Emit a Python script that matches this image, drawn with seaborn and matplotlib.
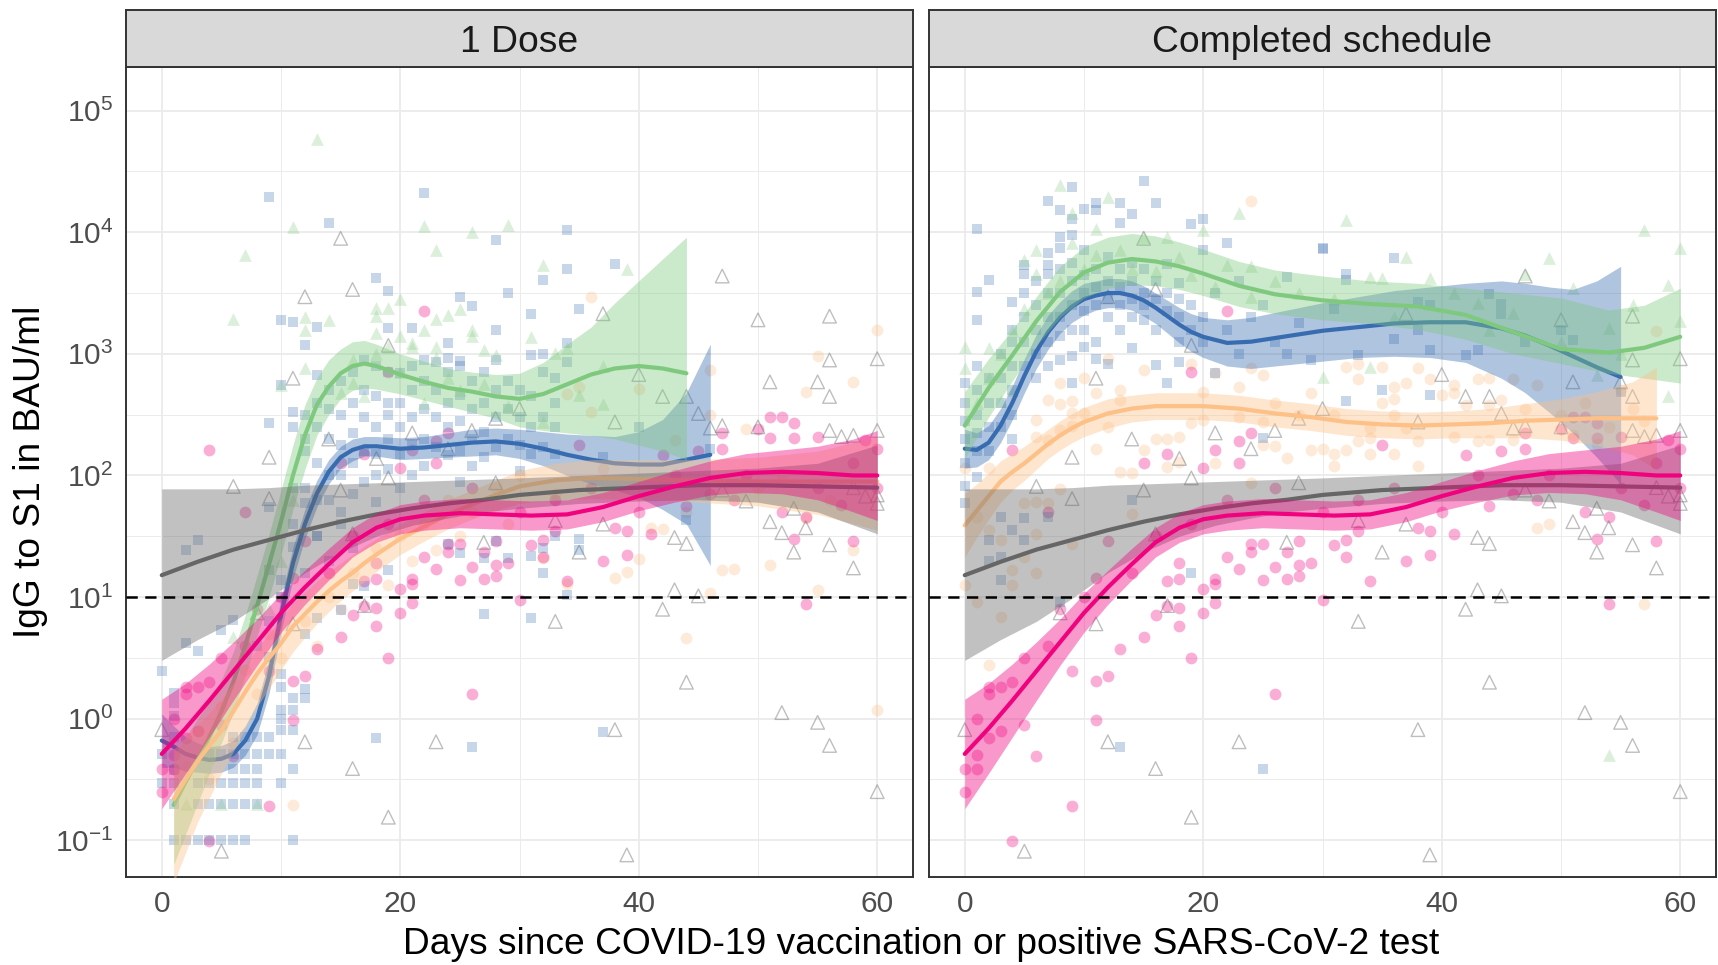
import numpy as np
import pandas as pd
import matplotlib
matplotlib.use("Agg")
import matplotlib.pyplot as plt
import matplotlib.ticker as mticker
import seaborn as sns

# Colours (RColorBrewer "Accent")
GREEN = "#7FC97F"
BLUE = "#386CB0"
ORANGE = "#FDC086"
PINK = "#F0027F"
GREY = "#666666"

# ---------------------------------------------------------------
# Observations: (day, log10 IgG to S1 in BAU/ml), read off the figure
# ---------------------------------------------------------------
dose1_green_pts = [
    (13, 4.77), (7, 3.81), (11, 4.04), (6, 3.29), (22, 4.05), (26, 4.0), (29, 4.06), (23, 3.85),
    (20, 3.45), (18, 3.38), (19, 3.38), (18, 3.31), (12, 3.3), (14, 3.28), (12, 3.2), (18, 3.17),
    (20, 3.15), (22, 3.2), (23, 3.29), (24, 3.32), (25, 3.37), (26, 3.2), (26, 3.15), (21, 3.09),
    (23, 3.06), (27, 3.03), (28, 2.99), (12, 2.88), (10, 2.74), (16, 2.76), (15, 2.68), (17, 2.65),
    (29, 2.57), (18, 3.0), (19, 3.06), (21, 3.06), (23, 2.97), (16, 2.95), (20, 2.85), (24, 2.8),
    (22, 2.6), (25, 2.7), (27, 2.75), (32, 3.73), (39, 3.7), (31, 3.14), (33, 3.01), (37, 2.9),
    (37, 2.59), (35, 2.66), (34, 3.05), (32, 2.44), (6, 0.67), (2, -0.7), (5, -0.7), (8, -0.7),
    (10, 1.3), (11, 1.8), (9, 0.9),
]

dose1_blue_pts = [
    (9, 4.29), (14, 4.08), (22, 4.32), (28, 3.94), (18, 3.62), (19, 3.52), (25, 3.47), (26, 3.39),
    (29, 3.5), (10, 3.28), (11, 3.26), (13, 3.22), (12, 3.07), (19, 3.21), (21, 3.21), (24, 3.09),
    (24, 2.97), (28, 3.2), (25, 2.94), (13, 2.83), (10, 2.74), (9, 2.43), (11, 2.52), (11, 2.4),
    (34, 4.02), (34, 3.7), (32, 3.61), (38, 3.74), (31, 3.33), (35, 3.37), (34, 3.09), (32, 3.0),
    (31, 2.99), (33, 2.8), (34, 2.93), (40, 2.4), (37, 2.15), (46, 2.22),
    (31, 1.34), (32, 1.4), (32, 1.2), (33, 1.5), (35, 1.48), (35, 1.39), (34, 1.02), (31, 0.83),
    (37, -0.11), (44, 1.63),
    (12, 2.5), (12, 2.2), (12, 1.9), (12, 2.3), (13, 2.6), (13, 2.4), (13, 2.1), (13, 1.8), (13, 1.5),
    (14, 2.7), (14, 2.55), (14, 2.3), (14, 2.0), (14, 1.8), (15, 2.78), (15, 2.5), (15, 2.25),
    (15, 2.0), (15, 1.7), (16, 2.85), (16, 2.6), (16, 2.35), (16, 2.1), (16, 1.85), (17, 2.95),
    (17, 2.7), (17, 2.48), (17, 2.2), (17, 1.95), (18, 2.9), (18, 2.65), (18, 2.4), (18, 2.18),
    (18, 2.0), (18, 1.78), (19, 2.85), (19, 2.6), (19, 2.5), (19, 2.3), (19, 2.05), (20, 2.84),
    (20, 2.6), (20, 2.4), (20, 2.18), (20, 1.9), (21, 2.9), (21, 2.7), (21, 2.48), (21, 2.25),
    (21, 2.0), (22, 2.95), (22, 2.78), (22, 2.55), (22, 2.3), (22, 2.08), (23, 2.93), (23, 2.7),
    (23, 2.48), (23, 2.23), (24, 2.85), (24, 2.6), (24, 2.4), (24, 2.17), (25, 2.9), (25, 2.66),
    (25, 2.45), (25, 2.2), (25, 1.95), (26, 2.78), (26, 2.55), (26, 2.3), (26, 2.08), (27, 2.85),
    (27, 2.6), (27, 2.36), (27, 2.15), (28, 2.95), (28, 2.7), (28, 2.48), (28, 2.23), (29, 2.78),
    (29, 2.55), (29, 2.3), (30, 2.7), (30, 2.48), (30, 2.25), (30, 2.04), (31, 2.65), (31, 2.4),
    (31, 2.18), (32, 2.85), (32, 2.48), (32, 2.23), (33, 2.6), (33, 2.4), (33, 2.18),
    (0, 0.39), (1, 0.21), (1, 0.13), (1, 0.02), (1, -0.15), (0, -0.29), (1, -0.42), (0, -0.53),
    (1, -0.53), (3, -0.53), (4, -0.53), (5, -0.53), (6, -0.53), (7, -0.53), (8, -0.53), (10, -0.53),
    (1, -0.7), (3, -0.7), (4, -0.7), (5, -0.7), (6, -0.7), (7, -0.7), (8, -0.7), (1, -1.0), (2, -1.0),
    (3, -1.0), (4, -1.0), (5, -1.0), (6, -1.0), (7, -1.0), (11, -1.0), (6, -0.41), (7, -0.41),
    (8, -0.41), (11, -0.41), (4, -0.29), (5, -0.29), (6, -0.29), (7, -0.29), (8, -0.29), (9, -0.29),
    (10, -0.29), (6, -0.15), (7, -0.15), (8, -0.15), (9, -0.15), (10, -0.09), (11, -0.09), (10, 0.0),
    (10, 0.07), (11, 0.07), (11, 0.17), (12, 0.17), (12, 0.24), (3, 0.56), (2, 0.62), (5, 0.73),
    (6, 0.81), (2, 1.39), (3, 1.47), (9, 1.74), (18, -0.16), (26, -0.23), (27, 0.86), (9, 1.22),
    (10, 1.14), (11, 1.41), (11, 1.6), (12, 1.77), (10, 1.0), (9, 0.51), (10, 0.37), (10, 0.26),
    (13, 0.83), (15, 0.89), (16, 1.11), (17, 1.09), (19, 1.22), (24, 1.44), (25, 1.36), (27, 1.32),
    (29, 1.32), (28, 1.46), (9, 0.8), (8, 0.6), (11, 1.9), (12, 1.2), (13, 1.5), (14, 1.3),
    (15, 1.6), (16, 1.4), (12, 0.7),
]

dose1_orange_pts = [
    (11, -0.71), (32, 1.32), (38, 1.16), (39, 1.21), (40, 1.31), (41, 1.57), (42, 1.56), (44, 0.66),
    (46, 1.03), (47, 1.22), (48, 1.23), (51, 1.26), (54, 1.65), (55, 1.06), (58, 1.39), (60, 0.07),
    (34, 1.11), (36, 3.47), (46, 2.87), (60, 3.2), (55, 2.98), (54, 2.69), (58, 2.77), (40, 2.71),
    (46, 2.5), (36, 2.52), (49, 2.38), (43, 2.29), (35, 2.73), (34, 2.67), (23, 1.39), (2, -0.4),
    (4, -0.5), (6, -0.2), (8, 0.2), (10, 0.5), (12, 0.8), (14, 1.0), (16, 1.2), (18, 1.4), (20, 1.5),
    (22, 1.6), (24, 1.8), (26, 1.7), (28, 1.9), (30, 2.0), (33, 1.85), (50, 1.9), (56, 1.8),
    (44, 1.7), (52, 2.0), (37, 2.05), (3, -0.1), (5, 0.1), (7, 0.4), (9, 0.7), (13, 0.6), (15, 0.9),
    (19, 1.1), (21, 1.3), (25, 1.5), (29, 1.6),
]

# infection group: same points in both panels
infect_pink_pts = [
    (0, -0.41), (1, -0.41), (2, 0.26), (2, -0.16), (5, -0.05), (6, -0.31), (4, -1.01), (9, -0.72),
    (9, 0.39), (11, -0.01), (11, 0.31), (12, 0.35), (13, 0.57), (15, 0.67), (16, 0.85), (17, 0.93),
    (18, 0.91), (18, 0.76), (19, 0.5), (20, 0.87), (21, 0.95), (21, 1.11), (21, 1.15), (17, 1.13),
    (18, 1.15), (18, 1.28), (20, 1.07), (22, 1.33), (23, 1.23), (24, 1.37), (25, 1.44), (25, 1.14),
    (26, 1.25), (26, 0.2), (27, 1.37), (27, 1.15), (28, 1.26), (28, 1.46), (29, 1.28), (30, 0.98),
    (28, 1.17), (24, 1.44), (7, 1.7), (11, 1.16), (12, 1.46),
    (31, 1.43), (32, 1.47), (32, 1.33), (33, 1.54), (34, 1.13), (37, 1.3), (38, 1.57), (39, 1.54),
    (39, 1.35), (41, 1.52), (44, 1.75), (53, 1.48), (54, 0.94), (58, 1.46), (57, 1.76), (54, 1.66),
    (52, 1.7), (48, 1.8), (51, 2.48), (52, 2.48), (53, 2.43), (51, 2.31), (53, 2.31), (55, 2.32),
    (47, 2.35), (47, 2.22), (50, 2.38), (60, 2.22), (59, 2.29), (45, 2.2), (4, 2.21), (22, 3.35),
    (19, 2.85), (24, 2.35), (23, 2.28), (21, 2.21), (17, 2.18), (15, 2.1), (20, 2.06), (23, 2.1),
    (42, 2.17), (35, 2.25), (1, 0.0), (2, 0.2), (3, 0.26), (4, 0.3), (0, -0.6), (1, -0.3), (3, -0.1),
    (5, 0.5), (7, 0.6), (8, 0.9), (10, 1.0), (14, 1.2), (16, 1.5), (19, 1.6), (22, 1.8), (26, 1.9),
    (30, 1.7), (33, 1.8), (36, 1.9), (40, 1.7), (43, 2.0), (46, 1.85), (49, 2.0), (55, 1.9),
    (58, 2.1), (60, 1.9),
]

infect_grey_pts = [
    (0, -0.09), (5, -1.09), (6, 1.91), (9, 1.81), (8, 0.87), (11, 0.78), (12, -0.19), (16, -0.41),
    (17, 0.93), (19, -0.81), (19, 1.98), (15, 1.88), (16, 1.52), (23, -0.19), (27, 1.45), (28, 1.94),
    (33, 0.8), (35, 1.37), (38, -0.09), (39, -1.12), (42, 0.9), (43, 1.06), (43, 1.49), (44, 1.44),
    (44, 0.3), (45, 1.01), (49, 1.79), (51, 1.62), (52, 1.53), (52, 0.05), (53, 1.37), (53, 1.73),
    (54, 1.57), (55, -0.03), (56, 1.43), (56, -0.22), (58, 1.24), (60, -0.6), (60, 1.84), (60, 1.77),
    (59, 1.83), (58, 1.9), (47, 1.88), (37, 1.6), (33, 1.63),
    (47, 3.64), (50, 3.28), (56, 3.31), (56, 2.95), (60, 2.96), (51, 2.77), (55, 2.77), (56, 2.65),
    (37, 3.33), (40, 2.83), (42, 2.65), (44, 2.65), (45, 2.51), (38, 2.44), (56, 2.37), (57, 2.32),
    (58, 2.33), (60, 2.37), (46, 2.39), (47, 2.41), (50, 2.4),
    (15, 3.95), (16, 3.53), (12, 3.47), (11, 2.8), (9, 2.15), (19, 3.07), (14, 2.3), (18, 2.14),
    (21, 2.35), (24, 2.22), (26, 2.37), (28, 2.47), (30, 2.55),
]

full_green_pts = [
    (8, 4.39), (12, 4.29), (9, 4.16), (9, 3.91), (6, 3.85), (5, 3.77), (6, 3.66), (11, 4.03),
    (20, 4.02), (23, 4.16), (24, 3.72), (22, 3.73), (17, 3.96), (15, 3.96), (0, 3.06), (2, 3.05),
    (0, 2.88), (3, 2.61), (4, 2.7), (5, 3.37), (24, 3.47), (11, 3.81), (16, 3.68),
    (32, 4.1), (37, 3.8), (49, 3.79), (57, 4.02), (60, 3.87), (59, 3.57), (47, 3.66), (51, 3.54),
    (56, 3.4), (60, 3.27), (59, 2.65), (34, 2.89), (30, 2.81), (54, 3.21), (53, 2.83), (34, 3.63),
    (35, 3.62), (39, 3.62), (43, 3.42), (46, 3.34), (54, -0.3),
    (7, 3.5), (8, 3.6), (10, 3.7), (13, 3.85), (14, 3.7), (18, 3.8), (19, 3.65), (21, 3.55),
    (26, 3.6), (28, 3.5), (31, 3.45), (36, 3.3), (41, 3.5), (44, 3.2), (50, 3.1), (55, 3.0),
    (1, 2.6), (2, 2.8), (3, 3.0), (4, 3.2),
]

full_blue_pts = [
    (1, 4.03), (9, 4.37), (15, 4.42), (7, 4.26), (8, 4.18), (10, 4.19), (11, 4.24), (11, 4.18),
    (13, 4.24), (14, 4.15), (13, 4.08), (16, 4.24), (19, 4.07), (20, 4.11), (9, 4.11), (8, 3.96),
    (8, 3.87), (9, 3.98), (10, 3.85), (7, 3.83), (7, 3.73), (7, 3.66), (5, 3.73), (5, 3.66),
    (2, 3.61), (1, 3.51), (1, 3.28), (4, 3.43), (4, 3.2), (22, 3.91), (30, 3.87), (20, 3.85),
    (17, 3.74), (18, 3.58), (27, 3.63),
    (15, 3.28), (13, 3.2), (14, 3.05), (16, 2.91), (17, 2.76), (18, 2.93), (12, 2.92), (11, 2.96),
    (10, 3.06), (9, 2.98), (9, 2.76), (21, 2.84), (25, 2.31),
    (5, 3.5), (5, 3.3), (5, 3.1), (5, 2.9), (6, 3.6), (6, 3.4), (6, 3.2), (6, 3.0), (6, 2.8),
    (7, 3.5), (7, 3.3), (7, 3.1), (7, 2.9), (8, 3.7), (8, 3.5), (8, 3.3), (8, 3.15), (8, 2.95),
    (9, 3.75), (9, 3.6), (9, 3.4), (9, 3.2), (10, 3.65), (10, 3.5), (10, 3.35), (10, 3.2),
    (11, 3.7), (11, 3.55), (11, 3.4), (11, 3.1), (12, 3.8), (12, 3.6), (12, 3.45), (12, 3.3),
    (13, 3.7), (13, 3.55), (13, 3.4), (14, 3.75), (14, 3.6), (14, 3.45), (14, 3.3), (15, 3.7),
    (15, 3.5), (15, 3.4), (16, 3.6), (16, 3.45), (16, 3.2), (17, 3.5), (17, 3.35), (18, 3.45),
    (18, 3.3), (18, 3.1), (19, 3.4), (19, 3.2), (20, 3.3), (20, 3.1),
    (0, 2.76), (0, 2.6), (0, 2.45), (0, 2.3), (0, 2.1), (0, 1.91), (0, 1.77), (1, 2.9), (1, 2.7),
    (1, 2.5), (1, 2.35), (1, 2.2), (1, 1.99), (2, 2.8), (2, 2.6), (2, 2.4), (2, 2.2), (2, 1.47),
    (2, 1.3), (3, 3.0), (3, 2.8), (3, 2.6), (3, 2.4), (3, 1.66), (3, 1.33), (3, 1.14), (4, 3.1),
    (4, 2.9), (4, 2.7), (4, 2.5), (4, 2.3), (4, 1.55), (5, 1.65), (5, 1.47),
    (7, 1.66), (14, 1.8), (19, 1.2), (8, 0.96), (13, -0.23), (25, -0.41),
    (30, 3.86), (36, 3.79), (32, 3.66), (32, 3.61), (31, 3.37), (36, 3.12), (33, 2.99), (39, 3.03),
    (35, 2.7), (32, 2.61), (39, 2.66), (42, 2.99), (43, 3.03), (44, 3.49), (45, 3.41), (45, 3.33),
    (47, 3.1), (50, 3.2), (51, 3.11), (55, 2.69), (38, 3.43), (39, 3.4), (38, 3.2),
    (22, 3.2), (23, 3.0), (24, 3.3), (26, 3.1), (28, 3.25), (29, 2.95), (21, 3.5), (23, 3.6),
    (25, 3.4), (27, 3.0),
]

full_orange_pts = [
    (24, 4.26), (12, 2.96), (19, 2.92), (24, 2.88), (25, 2.83), (21, 2.84), (15, 2.87), (8, 2.76),
    (10, 2.8), (7, 2.62), (9, 2.61), (8, 2.59), (11, 2.68), (13, 2.7), (13, 2.62), (10, 2.51),
    (9, 2.51), (9, 2.41), (6, 2.46), (23, 2.73), (20, 2.69), (29, 2.68), (25, 2.44), (23, 2.48),
    (19, 2.43), (20, 2.46), (12, 2.4), (8, 2.37), (6, 2.32), (7, 2.29), (11, 2.22), (16, 2.3),
    (17, 2.3), (18, 2.32), (15, 2.21), (17, 2.07), (18, 2.11), (13, 2.03), (21, 2.1), (25, 2.25),
    (26, 2.24), (27, 2.14), (29, 2.21), (30, 2.22), (0, 2.06), (2, 2.06),
    (32, 2.89), (33, 2.92), (35, 2.89), (33, 2.79), (36, 2.73), (36, 2.63), (37, 2.76), (38, 2.88),
    (39, 2.79), (40, 2.66), (41, 2.74), (41, 2.68), (43, 2.79), (44, 2.8), (45, 2.62), (46, 2.79),
    (35, 2.6), (42, 2.58), (44, 2.58), (58, 3.19), (47, 2.55), (48, 2.74),
    (33, 2.28), (34, 2.31), (38, 2.28), (41, 2.32), (43, 2.28), (44, 2.29), (46, 2.29), (51, 2.33),
    (53, 2.26), (31, 2.18), (32, 2.21), (34, 2.18), (36, 2.18), (31, 2.08), (38, 2.08), (34, 2.39),
    (36, 2.5), (37, 2.39),
    (0, 1.1), (1, 0.96), (3, 0.84), (2, 0.44), (4, 1.1), (5, 1.77), (6, 1.78), (7, 1.77), (8, 1.89),
    (6, 1.52), (6, 1.2), (4, 1.22), (3, 1.47), (2, 1.55), (1, 1.66), (5, 1.33), (14, 1.68),
    (14, 2.02), (24, 1.94), (9, 1.44), (48, 1.57), (49, 1.6), (57, 0.94),
    (50, 2.5), (52, 2.6), (54, 2.4), (56, 2.55), (55, 2.7), (57, 2.45), (26, 2.6), (28, 2.5),
    (31, 2.5),
]

# ---------------------------------------------------------------
# Smoothed fits with confidence band (log10 BAU/ml)
# ---------------------------------------------------------------
dose1_green_days = [1, 2, 3, 4, 5, 6, 7, 8, 9, 10, 11, 12, 13, 14, 15, 16, 17, 18, 20, 22, 24, 26,
                    28, 30, 32, 34, 36, 38, 40, 42, 44]
dose1_green_mid = [-0.71, -0.52, -0.34, -0.15, 0.06, 0.3, 0.6, 0.93, 1.27, 1.62, 2.0, 2.33, 2.58,
                   2.73, 2.84, 2.9, 2.92, 2.9, 2.83, 2.77, 2.72, 2.69, 2.65, 2.63, 2.67, 2.75,
                   2.83, 2.88, 2.9, 2.88, 2.84]
dose1_green_lo = [-1.2, -0.95, -0.7, -0.45, -0.2, 0.05, 0.35, 0.68, 1.0, 1.35, 1.72, 2.05, 2.33,
                  2.5, 2.63, 2.7, 2.72, 2.71, 2.67, 2.62, 2.57, 2.52, 2.47, 2.4, 2.37, 2.35, 2.33,
                  2.3, 2.25, 2.2, 2.13]
dose1_green_hi = [-0.3, -0.15, 0.0, 0.15, 0.32, 0.55, 0.85, 1.18, 1.52, 1.88, 2.25, 2.58, 2.8,
                  2.95, 3.04, 3.1, 3.11, 3.08, 3.0, 2.94, 2.88, 2.85, 2.83, 2.84, 2.93, 3.08,
                  3.22, 3.42, 3.6, 3.78, 3.96]

dose1_blue_days = [0, 1, 2, 3, 4, 5, 6, 7, 8, 9, 10, 11, 12, 13, 14, 15, 16, 17, 18, 20, 22, 24,
                   26, 28, 30, 32, 34, 36, 38, 40, 42, 44, 46]
dose1_blue_mid = [-0.18, -0.23, -0.29, -0.32, -0.34, -0.33, -0.29, -0.18, 0.0, 0.35, 0.85, 1.28,
                  1.6, 1.85, 2.03, 2.15, 2.21, 2.24, 2.24, 2.22, 2.23, 2.25, 2.27, 2.28, 2.26,
                  2.22, 2.17, 2.13, 2.1, 2.09, 2.09, 2.13, 2.17]
dose1_blue_lo = [-0.4, -0.4, -0.43, -0.44, -0.45, -0.44, -0.4, -0.3, -0.13, 0.21, 0.71, 1.15,
                 1.48, 1.74, 1.93, 2.06, 2.12, 2.16, 2.16, 2.13, 2.14, 2.15, 2.16, 2.17, 2.14,
                 2.08, 2.0, 1.93, 1.88, 1.82, 1.72, 1.6, 1.26]
dose1_blue_hi = [0.04, -0.06, -0.15, -0.2, -0.23, -0.22, -0.18, -0.06, 0.13, 0.49, 0.99, 1.41,
                 1.72, 1.96, 2.13, 2.24, 2.3, 2.32, 2.32, 2.31, 2.32, 2.35, 2.38, 2.39, 2.38,
                 2.36, 2.34, 2.33, 2.32, 2.36, 2.46, 2.68, 3.08]

dose1_orange_days = [1, 2, 3, 4, 5, 6, 7, 8, 9, 10, 11, 12, 13, 14, 15, 16, 17, 18, 20, 22, 24,
                     26, 28, 30, 33, 36, 40, 45, 50, 55, 60]
dose1_orange_mid = [-0.66, -0.5, -0.35, -0.22, -0.1, 0.06, 0.22, 0.37, 0.5, 0.62, 0.76, 0.86,
                    0.96, 1.05, 1.13, 1.2, 1.28, 1.35, 1.48, 1.58, 1.68, 1.76, 1.84, 1.91, 1.96,
                    1.98, 1.97, 1.96, 1.95, 1.95, 1.95]
dose1_orange_lo = [-1.35, -1.1, -0.85, -0.65, -0.45, -0.27, -0.08, 0.1, 0.25, 0.4, 0.55, 0.67,
                   0.78, 0.88, 0.97, 1.05, 1.13, 1.21, 1.35, 1.46, 1.56, 1.64, 1.71, 1.77, 1.8,
                   1.81, 1.8, 1.78, 1.75, 1.68, 1.55]
dose1_orange_hi = [-0.25, -0.15, -0.05, 0.05, 0.16, 0.3, 0.44, 0.58, 0.7, 0.82, 0.95, 1.04, 1.13,
                   1.21, 1.28, 1.35, 1.42, 1.48, 1.6, 1.7, 1.8, 1.88, 1.96, 2.04, 2.1, 2.13, 2.13,
                   2.13, 2.15, 2.2, 2.32]

full_green_days = [0, 2, 4, 6, 8, 10, 12, 14, 16, 18, 20, 23, 26, 30, 34, 38, 42, 46, 50, 54, 57, 60]
full_green_mid = [2.41, 2.72, 2.99, 3.27, 3.51, 3.67, 3.75, 3.78, 3.76, 3.72, 3.66, 3.56, 3.49,
                  3.44, 3.41, 3.39, 3.32, 3.18, 3.04, 3.01, 3.05, 3.14]
full_green_lo = [2.14, 2.48, 2.78, 3.07, 3.3, 3.46, 3.54, 3.57, 3.56, 3.53, 3.48, 3.39, 3.33,
                 3.28, 3.25, 3.2, 3.12, 3.0, 2.92, 2.84, 2.8, 2.76]
full_green_hi = [2.69, 2.96, 3.2, 3.47, 3.72, 3.88, 3.96, 3.99, 3.97, 3.92, 3.86, 3.76, 3.69,
                 3.64, 3.6, 3.58, 3.54, 3.5, 3.46, 3.36, 3.4, 3.54]

full_blue_days = [0, 1, 2, 3, 4, 5, 6, 7, 8, 9, 10, 11, 12, 13, 14, 15, 16, 17, 18, 19, 20, 22,
                  24, 26, 28, 30, 33, 36, 39, 42, 45, 47, 49, 51, 53, 55]
full_blue_mid = [2.22, 2.21, 2.27, 2.41, 2.6, 2.82, 3.02, 3.18, 3.3, 3.39, 3.45, 3.48, 3.5, 3.5,
                 3.48, 3.44, 3.38, 3.31, 3.24, 3.18, 3.14, 3.09, 3.1, 3.13, 3.16, 3.19, 3.22,
                 3.25, 3.26, 3.26, 3.21, 3.15, 3.07, 2.98, 2.89, 2.81]
full_blue_lo = [2.06, 2.07, 2.13, 2.27, 2.46, 2.68, 2.88, 3.04, 3.17, 3.26, 3.32, 3.36, 3.38,
                3.38, 3.36, 3.31, 3.25, 3.17, 3.09, 3.02, 2.97, 2.9, 2.88, 2.9, 2.92, 2.94, 2.97,
                2.98, 2.97, 2.93, 2.8, 2.68, 2.52, 2.35, 2.15, 1.93]
full_blue_hi = [2.38, 2.35, 2.41, 2.55, 2.74, 2.96, 3.16, 3.32, 3.43, 3.52, 3.58, 3.6, 3.62,
                3.62, 3.6, 3.56, 3.5, 3.44, 3.38, 3.33, 3.3, 3.28, 3.3, 3.34, 3.38, 3.42, 3.47,
                3.52, 3.55, 3.58, 3.6, 3.58, 3.55, 3.53, 3.6, 3.72]

full_orange_days = [0, 1, 2, 3, 4, 5, 6, 7, 8, 9, 10, 12, 14, 16, 18, 20, 23, 26, 29, 32, 35, 38,
                    41, 44, 47, 50, 53, 56, 58]
full_orange_mid = [1.59, 1.71, 1.83, 1.95, 2.03, 2.1, 2.18, 2.26, 2.33, 2.39, 2.44, 2.51, 2.55,
                   2.57, 2.57, 2.57, 2.55, 2.51, 2.48, 2.44, 2.42, 2.41, 2.42, 2.43, 2.45, 2.46,
                   2.47, 2.47, 2.47]
full_orange_lo = [1.33, 1.49, 1.64, 1.78, 1.88, 1.96, 2.05, 2.14, 2.21, 2.27, 2.32, 2.39, 2.44,
                  2.46, 2.46, 2.46, 2.44, 2.4, 2.37, 2.33, 2.31, 2.3, 2.31, 2.31, 2.31, 2.29,
                  2.25, 2.17, 2.05]
full_orange_hi = [1.85, 1.93, 2.02, 2.12, 2.18, 2.24, 2.31, 2.38, 2.45, 2.51, 2.56, 2.63, 2.66,
                  2.68, 2.68, 2.68, 2.66, 2.62, 2.59, 2.55, 2.53, 2.52, 2.53, 2.55, 2.59, 2.63,
                  2.69, 2.77, 2.89]

# infection group fits, identical in both panels
infect_pink_days = [0, 2, 4, 6, 8, 10, 12, 14, 16, 18, 20, 22, 25, 28, 31, 34, 37, 40, 43, 46, 49,
                    52, 55, 58, 60]
infect_pink_mid = [-0.29, -0.08, 0.15, 0.39, 0.63, 0.87, 1.08, 1.27, 1.45, 1.57, 1.64, 1.67, 1.69,
                   1.68, 1.67, 1.68, 1.74, 1.83, 1.91, 1.98, 2.02, 2.03, 2.02, 2.0, 2.0]
infect_pink_lo = [-0.74, -0.45, -0.15, 0.15, 0.44, 0.71, 0.94, 1.14, 1.33, 1.45, 1.52, 1.55, 1.57,
                  1.56, 1.55, 1.56, 1.62, 1.71, 1.78, 1.84, 1.86, 1.85, 1.8, 1.7, 1.63]
infect_pink_hi = [0.16, 0.29, 0.45, 0.63, 0.82, 1.03, 1.22, 1.4, 1.57, 1.69, 1.76, 1.79, 1.81,
                  1.8, 1.79, 1.8, 1.86, 1.95, 2.04, 2.12, 2.18, 2.21, 2.24, 2.3, 2.37]

infect_grey_days = [0, 3, 6, 9, 12, 15, 18, 21, 24, 27, 30, 35, 40, 45, 50, 55, 60]
infect_grey_mid = [1.18, 1.29, 1.39, 1.47, 1.55, 1.62, 1.68, 1.73, 1.77, 1.8, 1.84, 1.88, 1.9,
                   1.92, 1.92, 1.91, 1.9]
infect_grey_lo = [0.48, 0.65, 0.8, 0.99, 1.2, 1.37, 1.5, 1.59, 1.65, 1.7, 1.73, 1.77, 1.79, 1.8,
                  1.78, 1.7, 1.52]
infect_grey_hi = [1.89, 1.89, 1.89, 1.9, 1.92, 1.93, 1.94, 1.95, 1.96, 1.97, 1.98, 2.0, 2.02,
                  2.04, 2.06, 2.1, 2.25]

panel_titles = ["1 Dose", "Completed schedule"]
x_ticks = [0, 20, 40, 60]
y_exponents = [-1, 0, 1, 2, 3, 4, 5]
threshold = 10
x_title = "Days since COVID-19 vaccination or positive SARS-CoV-2 test"
y_title = "IgG to S1 in BAU/ml"

# ---------------------------------------------------------------
sns.set_theme(style="white")
plt.rcParams["font.family"] = ["Liberation Sans", "DejaVu Sans"]
plt.rcParams["mathtext.fontset"] = "custom"
plt.rcParams["mathtext.rm"] = "Liberation Sans"
plt.rcParams["mathtext.it"] = "Liberation Sans:italic"
plt.rcParams["mathtext.bf"] = "Liberation Sans:bold"

point_style = {
    "square": dict(marker="s", s=54, alpha=0.28, linewidth=0),
    "triangle": dict(marker="^", s=84, alpha=0.28, linewidth=0),
    "circle": dict(marker="o", s=72, alpha=0.32, linewidth=0),
}


def frame(pairs):
    df = pd.DataFrame(pairs, columns=["day", "log_igg"])
    df["igg"] = 10.0 ** df["log_igg"]
    return df


def draw_points(ax, pairs, color, kind):
    df = frame(pairs)
    sns.scatterplot(data=df, x="day", y="igg", color=color, ax=ax, legend=False,
                    zorder=2, **point_style[kind])


def draw_open_triangles(ax, pairs):
    df = frame(pairs)
    sns.scatterplot(data=df, x="day", y="igg", marker="^", s=96, ax=ax, legend=False, zorder=2)
    coll = ax.collections[-1]
    coll.set_facecolor("none")
    coll.set_edgecolor((0.4, 0.4, 0.4, 0.42))
    coll.set_linewidth(1.0)


def draw_fit(ax, days, mid, lo, hi, color):
    d = np.array(days, dtype=float)
    ax.fill_between(d, 10.0 ** np.array(lo), 10.0 ** np.array(hi), color=color,
                    alpha=0.4, linewidth=0, zorder=3)
    sns.lineplot(x=d, y=10.0 ** np.array(mid), color=color, linewidth=3.0, ax=ax,
                 estimator=None, sort=False, zorder=3)


fig = plt.figure(figsize=(17.18, 9.65), dpi=100)
W, H = 1718.0, 965.0
panel_px = [(126, 913), (929, 1716)]
top_px, bottom_px, strip_top_px = 67, 877, 10

axes = []
for i, (x0, x1) in enumerate(panel_px):
    ax = fig.add_axes([x0 / W, 1 - bottom_px / H, (x1 - x0) / W, (bottom_px - top_px) / H])
    axes.append(ax)
    sax = fig.add_axes([x0 / W, 1 - top_px / H, (x1 - x0) / W, (top_px - strip_top_px) / H])
    sax.set_facecolor("#D9D9D9")
    sax.set_xticks([])
    sax.set_yticks([])
    for sp in sax.spines.values():
        sp.set_color("#333333")
        sp.set_linewidth(1.4)
    sax.text(0.5, 0.43, panel_titles[i], ha="center", va="center", fontsize=26.8,
             color="#1A1A1A", transform=sax.transAxes)

panels = [
    dict(green=dose1_green_pts, blue=dose1_blue_pts, orange=dose1_orange_pts,
         fits=[(dose1_blue_days, dose1_blue_mid, dose1_blue_lo, dose1_blue_hi, BLUE),
               (dose1_green_days, dose1_green_mid, dose1_green_lo, dose1_green_hi, GREEN),
               (dose1_orange_days, dose1_orange_mid, dose1_orange_lo, dose1_orange_hi, ORANGE)]),
    dict(green=full_green_pts, blue=full_blue_pts, orange=full_orange_pts,
         fits=[(full_blue_days, full_blue_mid, full_blue_lo, full_blue_hi, BLUE),
               (full_green_days, full_green_mid, full_green_lo, full_green_hi, GREEN),
               (full_orange_days, full_orange_mid, full_orange_lo, full_orange_hi, ORANGE)]),
]

for i, (ax, p) in enumerate(zip(axes, panels)):
    ax.set_yscale("log")
    draw_points(ax, p["orange"], ORANGE, "circle")
    draw_points(ax, infect_pink_pts, PINK, "circle")
    draw_open_triangles(ax, infect_grey_pts)
    draw_points(ax, p["blue"], BLUE, "square")
    draw_points(ax, p["green"], GREEN, "triangle")

    for days, mid, lo, hi, col in p["fits"]:
        draw_fit(ax, days, mid, lo, hi, col)
    draw_fit(ax, infect_grey_days, infect_grey_mid, infect_grey_lo, infect_grey_hi, GREY)
    draw_fit(ax, infect_pink_days, infect_pink_mid, infect_pink_lo, infect_pink_hi, PINK)

    ax.axhline(threshold, color="black", linestyle=(0, (4.5, 3)), linewidth=1.8, zorder=4)

    ax.set_xlim(-3, 63)
    ax.set_xticks(x_ticks)
    ax.set_xticks([10, 30, 50], minor=True)
    ax.set_yticks([10.0 ** e for e in y_exponents])
    ax.set_yticks([10.0 ** (e + 0.5) for e in range(-2, 6)], minor=True)
    ax.yaxis.set_minor_formatter(mticker.NullFormatter())
    ax.xaxis.set_minor_formatter(mticker.NullFormatter())
    if i == 0:
        ax.set_yticklabels([r"$10^{%d}$" % e for e in y_exponents])
    else:
        ax.set_yticklabels([])
    ax.set_ylim(10 ** -1.302, 10 ** 5.359)

    ax.set_axisbelow(True)
    ax.grid(which="major", color="#EBEBEB", linewidth=1.3, zorder=0)
    ax.grid(which="minor", color="#EBEBEB", linewidth=0.7, zorder=0)
    ax.tick_params(which="major", direction="out", length=5, width=1.1, color="#333333",
                   labelsize=21.5, labelcolor="#4D4D4D", pad=4)
    ax.tick_params(which="minor", length=0)
    if i == 1:
        ax.tick_params(axis="y", which="both", length=0)
    for sp in ax.spines.values():
        sp.set_color("#333333")
        sp.set_linewidth(1.4)
    ax.set_xlabel("")
    ax.set_ylabel("")

fig.text(921 / W, 1 - 944 / H, x_title, ha="center", va="center", fontsize=26.7, color="black")
fig.text(31 / W, 1 - 472 / H, y_title, ha="center", va="center", rotation=90, fontsize=26.7,
         color="black")

fig.savefig("out.png", dpi=100)
